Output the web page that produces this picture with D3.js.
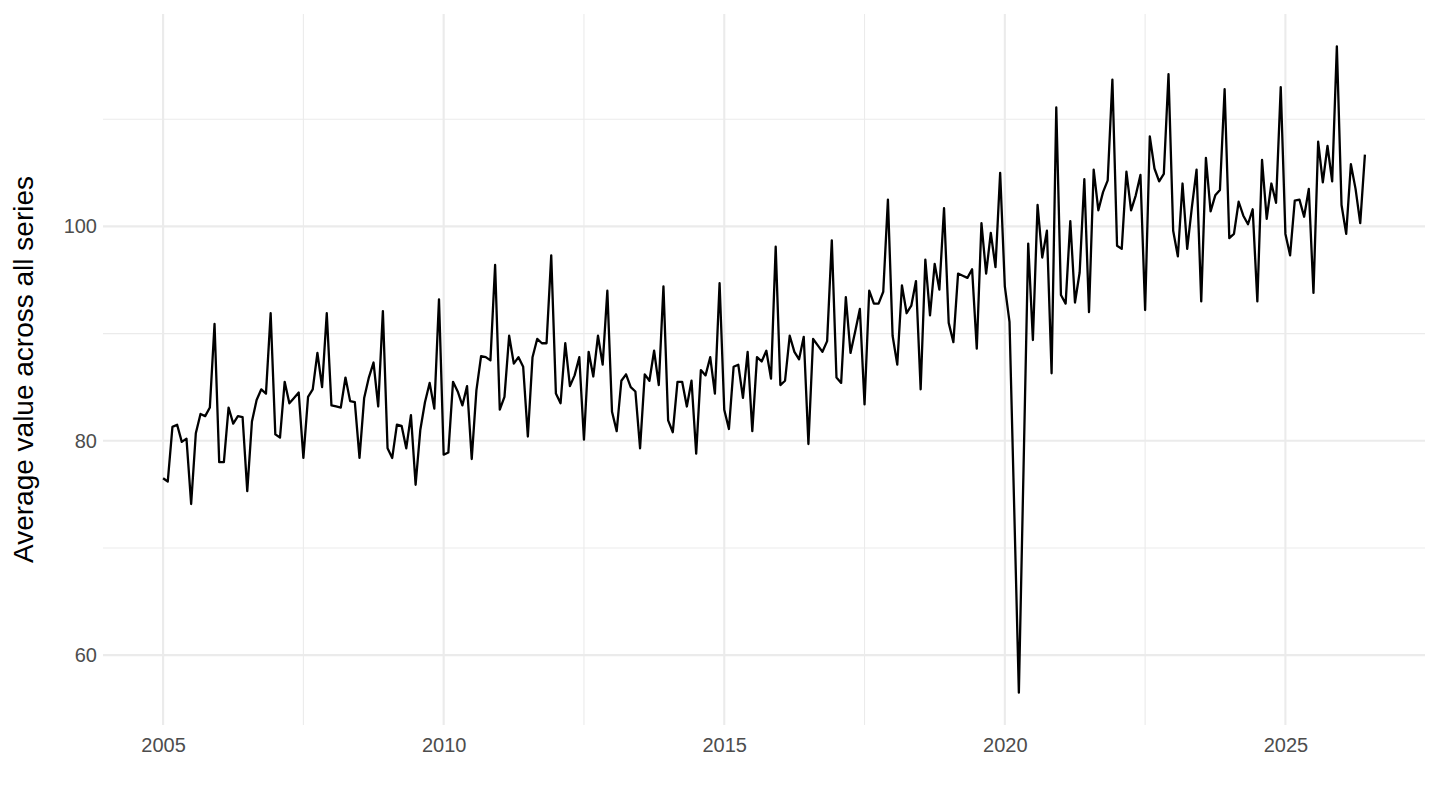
<!DOCTYPE html>
<html>
<head>
<meta charset="utf-8">
<script src="https://cdn.jsdelivr.net/npm/d3@7"></script>
<style>
  body { margin: 0; background: #ffffff; }
  text { font-family: "Liberation Sans", Arial, sans-serif; }
</style>
</head>
<body>
<svg id="chart"></svg>
<script>
// monthly averages, January 2005 onwards (last year is partial)
const startYear = 2005;
const monthlyByYear = [
    [76.5, 76.2, 81.3, 81.5, 79.9, 80.2, 74.1, 80.7, 82.5, 82.3, 83.1, 90.9],
    [78.0, 78.0, 83.1, 81.6, 82.3, 82.2, 75.3, 81.8, 83.8, 84.8, 84.4, 91.9],
    [80.6, 80.3, 85.5, 83.5, 84.0, 84.5, 78.4, 84.1, 84.8, 88.2, 85.0, 91.9],
    [83.3, 83.2, 83.1, 85.9, 83.7, 83.6, 78.4, 84.0, 85.9, 87.3, 83.2, 92.1],
    [79.3, 78.4, 81.5, 81.4, 79.3, 82.4, 75.9, 81.0, 83.6, 85.4, 83.0, 93.2],
    [78.7, 78.9, 85.5, 84.6, 83.3, 85.1, 78.3, 84.7, 87.9, 87.8, 87.5, 96.4],
    [82.9, 84.1, 89.8, 87.2, 87.8, 86.9, 80.4, 87.8, 89.5, 89.1, 89.1, 97.3],
    [84.4, 83.5, 89.1, 85.1, 86.1, 87.8, 80.1, 88.3, 86.0, 89.8, 87.1, 94.0],
    [82.7, 80.9, 85.6, 86.2, 85.0, 84.6, 79.3, 86.2, 85.6, 88.4, 85.2, 94.4],
    [81.9, 80.8, 85.5, 85.5, 83.2, 85.6, 78.8, 86.6, 86.1, 87.8, 84.4, 94.7],
    [82.9, 81.1, 86.9, 87.1, 84.0, 88.3, 80.9, 87.8, 87.4, 88.4, 85.8, 98.1],
    [85.2, 85.6, 89.8, 88.3, 87.6, 89.7, 79.7, 89.5, 88.9, 88.3, 89.3, 98.7],
    [85.9, 85.4, 93.4, 88.2, 90.2, 92.3, 83.4, 94.0, 92.8, 92.8, 93.9, 102.5],
    [89.8, 87.1, 94.5, 91.9, 92.6, 94.9, 84.8, 96.9, 91.7, 96.5, 94.1, 101.7],
    [91.0, 89.2, 95.6, 95.4, 95.2, 96.0, 88.6, 100.3, 95.6, 99.4, 96.2, 105.0],
    [94.4, 91.1, 73.8, 56.5, 77.4, 98.4, 89.4, 102.0, 97.1, 99.6, 86.3, 111.1],
    [93.6, 92.8, 100.5, 92.9, 95.7, 104.4, 92.0, 105.3, 101.5, 103.2, 104.3, 113.7],
    [98.2, 97.9, 105.1, 101.5, 102.9, 104.8, 92.2, 108.4, 105.4, 104.2, 104.9, 114.2],
    [99.6, 97.2, 104.0, 97.9, 101.8, 105.3, 93.0, 106.4, 101.4, 102.9, 103.4, 112.8],
    [98.9, 99.3, 102.3, 101.0, 100.2, 101.6, 93.0, 106.2, 100.7, 104.0, 102.2, 113.0],
    [99.3, 97.3, 102.4, 102.5, 100.9, 103.5, 93.8, 107.9, 104.1, 107.5, 104.2, 116.8],
    [102.0, 99.3, 105.8, 103.5, 100.3, 106.7]
];

const xTicks = [2005, 2010, 2015, 2020, 2025];
const xMinorTicks = [2007.5, 2012.5, 2017.5, 2022.5, 2027.5];
const yTicks = [60, 80, 100];
const yMinorTicks = [70, 90, 110];
const yTitle = "Average value across all series";

const width = 1440, height = 810;
const margin = { top: 14, right: 15, bottom: 85, left: 103 };
const innerW = width - margin.left - margin.right;
const innerH = height - margin.top - margin.bottom;

const data = [];
monthlyByYear.forEach((months, i) => {
    months.forEach((v, m) => {
        data.push({ t: startYear + i + m / 12, value: v });
    });
});

// ggplot style 5% padding around the data range
function expand(ext, f = 0.05) {
    const pad = (ext[1] - ext[0]) * f;
    return [ext[0] - pad, ext[1] + pad];
}

const x = d3.scaleLinear()
    .domain(expand(d3.extent(data, d => d.t)))
    .range([0, innerW]);

const y = d3.scaleLinear()
    .domain(expand(d3.extent(data, d => d.value)))
    .range([innerH, 0]);

const svg = d3.select("#chart")
    .attr("width", width)
    .attr("height", height);

const g = svg.append("g")
    .attr("transform", `translate(${margin.left}, ${margin.top})`);

// grid lines
const grid = g.append("g");
grid.selectAll(".ymin").data(yMinorTicks).join("line")
    .attr("x1", 0).attr("x2", innerW)
    .attr("y1", d => y(d)).attr("y2", d => y(d))
    .attr("stroke", "#ebebeb").attr("stroke-width", 1.1);
grid.selectAll(".xmin").data(xMinorTicks.filter(d => x(d) <= innerW)).join("line")
    .attr("y1", 0).attr("y2", innerH)
    .attr("x1", d => x(d)).attr("x2", d => x(d))
    .attr("stroke", "#ebebeb").attr("stroke-width", 1.1);
grid.selectAll(".ymaj").data(yTicks).join("line")
    .attr("x1", 0).attr("x2", innerW)
    .attr("y1", d => y(d)).attr("y2", d => y(d))
    .attr("stroke", "#ebebeb").attr("stroke-width", 2.1);
grid.selectAll(".xmaj").data(xTicks).join("line")
    .attr("y1", 0).attr("y2", innerH)
    .attr("x1", d => x(d)).attr("x2", d => x(d))
    .attr("stroke", "#ebebeb").attr("stroke-width", 2.1);

// axes, text only like theme_minimal
const xAxis = g.append("g")
    .attr("transform", `translate(0, ${innerH})`)
    .call(d3.axisBottom(x).tickValues(xTicks).tickFormat(d3.format("d")).tickSize(0).tickPadding(13));
const yAxis = g.append("g")
    .call(d3.axisLeft(y).tickValues(yTicks).tickSize(0).tickPadding(6));

[xAxis, yAxis].forEach(a => {
    a.select(".domain").remove();
    a.selectAll("text")
        .attr("fill", "#4d4d4d")
        .style("font-size", "20px")
        .style("font-family", "'Liberation Sans', Arial, sans-serif");
});

svg.append("text")
    .attr("transform", `translate(33, ${margin.top + innerH / 2}) rotate(-90)`)
    .attr("text-anchor", "middle")
    .attr("fill", "#000000")
    .style("font-size", "28px")
    .text(yTitle);

const line = d3.line()
    .x(d => x(d.t))
    .y(d => y(d.value));

g.append("path")
    .datum(data)
    .attr("fill", "none")
    .attr("stroke", "#000000")
    .attr("stroke-width", 2.3)
    .attr("stroke-linejoin", "round")
    .attr("d", line);
</script>
</body>
</html>
